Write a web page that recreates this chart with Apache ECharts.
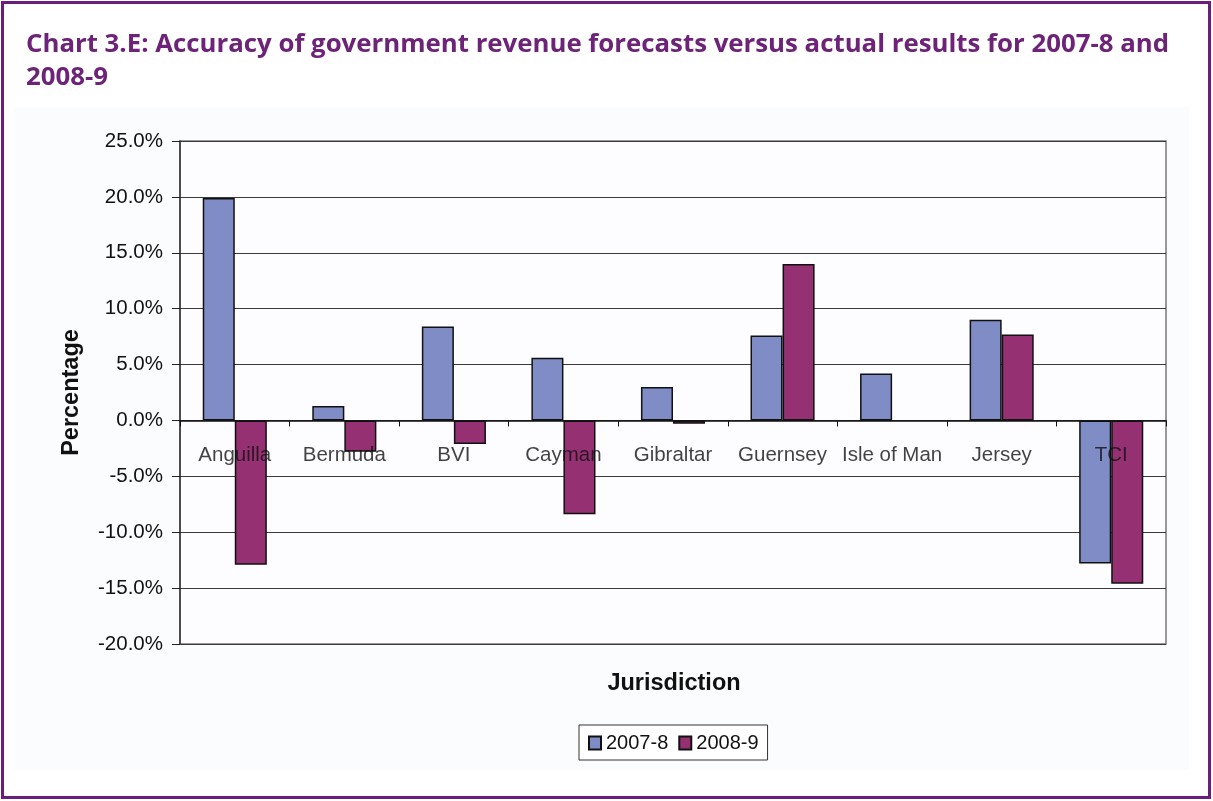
<!DOCTYPE html>
<html>
<head>
<meta charset="utf-8">
<script src="https://cdn.jsdelivr.net/npm/echarts@6/dist/echarts.min.js"></script>
<style>
  html, body { margin: 0; padding: 0; background: #ffffff; }
  #chart { width: 1213px; height: 801px; }
</style>
</head>
<body>
<div id="chart"></div>
<script>
// Revenue forecast accuracy by jurisdiction (percent deviation)
const jurisdictions = ['Anguilla', 'Bermuda', 'BVI', 'Cayman', 'Gibraltar', 'Guernsey', 'Isle of Man', 'Jersey', 'TCI'];
const series2007 = [19.9, 1.3, 8.4, 5.6, 3.0, 7.6, 4.2, 9.0, -12.8];
const series2008 = [-12.9, -2.8, -2.1, -8.4, -0.3, 14.0, null, 7.7, -14.6];
const seriesNames = ['2007-8', '2008-9'];
const yTicks = { min: -20, max: 25, step: 5 };

const titleText = 'Chart 3.E: Accuracy of government revenue forecasts versus actual results for 2007-8 and\n2008-9';

const chart = echarts.init(document.getElementById('chart'), null, { renderer: 'canvas' });

const barBorder = { borderColor: '#111111', borderWidth: 1.5 };
const baseFont = 'Liberation Sans';

// Category names sit just under the zero line, drawn on top of the bars
const categoryLabelPoints = jurisdictions.map(name => [name, 0]);

chart.setOption({
  backgroundColor: '#ffffff',
  animation: false,
  title: {
    text: titleText,
    left: 21,
    top: 23,
    textStyle: {
      fontFamily: 'Open Sans',
      fontWeight: 'bold',
      fontSize: 25.8,
      lineHeight: 33,
      color: '#6c2378'
    }
  },
  graphic: [
    {
      type: 'rect',
      silent: true,
      z: -10,
      shape: { x: 2.5, y: 2.5, width: 1207, height: 795 },
      style: { fill: 'none', stroke: '#6a1e7a', lineWidth: 3 }
    },
    {
      type: 'rect',
      silent: true,
      z: -9,
      shape: { x: 14, y: 107, width: 1175, height: 663 },
      style: { fill: '#fbfcfe' }
    },
    {
      type: 'text',
      x: 674,
      y: 684,
      style: {
        text: 'Jurisdiction',
        fontFamily: baseFont,
        fontWeight: 'bold',
        fontSize: 23.5,
        fill: '#111111',
        textAlign: 'center',
        textVerticalAlign: 'middle'
      }
    }
  ],
  legend: {
    data: seriesNames,
    left: 579,
    top: 725,
    icon: 'rect',
    itemWidth: 12,
    itemHeight: 13,
    itemGap: 10,
    padding: [8, 9, 7, 9],
    borderColor: '#333333',
    borderWidth: 1,
    backgroundColor: '#ffffff',
    textStyle: { fontFamily: baseFont, fontSize: 20, color: '#111111' }
  },
  grid: {
    left: 180,
    top: 141,
    right: 47,
    bottom: 157,
    show: true,
    backgroundColor: '#fdfdff',
    borderColor: '#777777',
    borderWidth: 1.5
  },
  xAxis: {
    type: 'category',
    data: jurisdictions,
    z: 5,
    axisLine: { onZero: true, lineStyle: { color: '#111111', width: 1.5 } },
    axisTick: { show: true, inside: false, length: 6, lineStyle: { color: '#111111' } },
    axisLabel: { show: false },
    splitLine: { show: false }
  },
  yAxis: {
    type: 'value',
    min: yTicks.min,
    max: yTicks.max,
    interval: yTicks.step,
    name: 'Percentage',
    nameLocation: 'middle',
    nameGap: 96,
    nameRotate: 90,
    nameTextStyle: { fontFamily: baseFont, fontWeight: 'bold', fontSize: 23.5, color: '#111111' },
    axisLine: { show: true, lineStyle: { color: '#333333', width: 1.5 } },
    axisTick: { show: true, inside: false, length: 8, lineStyle: { color: '#222222' } },
    axisLabel: {
      margin: 17,
      fontFamily: baseFont,
      fontSize: 20.5,
      color: '#111111',
      formatter: v => v.toFixed(1) + '%'
    },
    splitLine: { show: true, lineStyle: { color: '#3a3a3a', width: 1.2 } }
  },
  series: [
    {
      name: seriesNames[0],
      type: 'bar',
      data: series2007,
      barGap: '0%',
      barCategoryGap: '41.5%',
      itemStyle: Object.assign({ color: '#7f8cc6' }, barBorder)
    },
    {
      name: seriesNames[1],
      type: 'bar',
      data: series2008,
      barGap: '0%',
      barCategoryGap: '41.5%',
      itemStyle: Object.assign({ color: '#953072' }, barBorder)
    },
    {
      name: 'category labels',
      type: 'scatter',
      data: categoryLabelPoints,
      symbolSize: 0,
      silent: true,
      z: 6,
      label: {
        show: true,
        position: 'bottom',
        distance: 24,
        formatter: p => p.value[0],
        fontFamily: baseFont,
        fontSize: 20.5,
        color: '#111111'
      }
    }
  ]
});
</script>
</body>
</html>
